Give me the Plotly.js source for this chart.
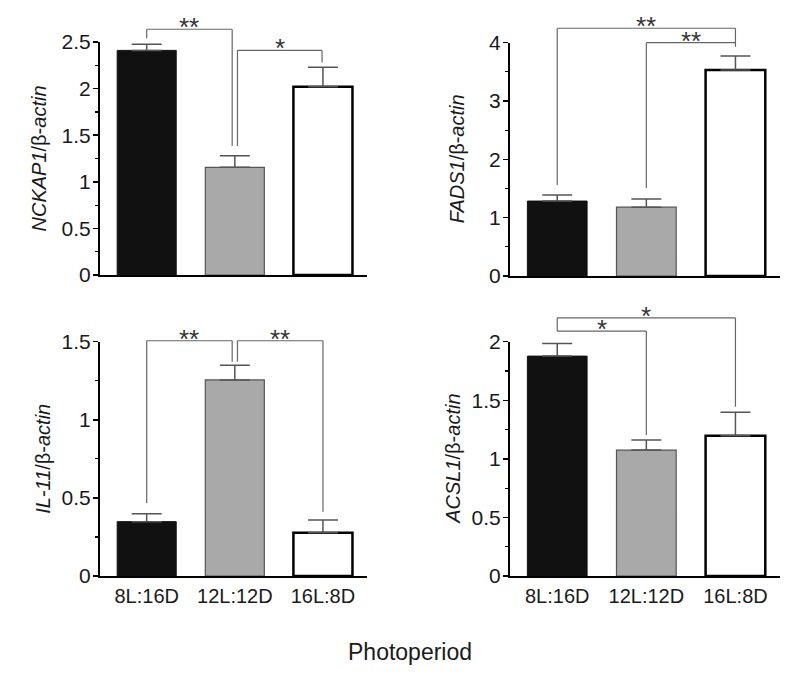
<!DOCTYPE html>
<html>
<head>
<meta charset="utf-8">
<script src="https://cdn.plot.ly/plotly-3.0.1.min.js"></script>
<style>html,body{margin:0;padding:0;background:#fff;}#chart{width:800px;height:680px;}</style>
</head>
<body>
<div id="chart"></div>
<script>
// ---- data ----
const categories = ['8L:16D', '12L:12D', '16L:8D'];

const nckap1 = [2.41, 1.155, 2.02];
const nckap1Err = [0.065, 0.125, 0.21];

const fads1 = [1.285, 1.18, 3.53];
const fads1Err = [0.105, 0.14, 0.24];

const il11 = [0.348, 1.255, 0.277];
const il11Err = [0.051, 0.094, 0.081];

const acsl1 = [1.877, 1.075, 1.197];
const acsl1Err = [0.108, 0.085, 0.2];

const yTitles = ['<i>NCKAP1</i>/β-<i>actin</i>', '<i>FADS1</i>/β-<i>actin</i>',
                 '<i>IL-11</i>/β-<i>actin</i>', '<i>ACSL1</i>/β-<i>actin</i>'];
const yMax = [2.5, 4, 1.5, 2];
const yDtick = [0.5, 1, 0.5, 0.5];
const yMinor = [0.25, 0.5, 0.25, 0.25];

// significance brackets: [from, to, level, leftLegEnd, rightLegEnd, label]
const brackets1 = [[0, 0.97, 2.637, 2.54, 1.383, '**'], [1.03, 1.99, 2.41, 1.383, 2.28, '*']];
const brackets2 = [[0, 2, 4.248, 1.56, 3.93, '**'], [1, 2, 4.0, 1.51, 4.0, '**']];
const brackets3 = [[0, 0.97, 1.506, 0.465, 1.372, '**'], [1.03, 2, 1.506, 1.372, 0.412, '**']];
const brackets4 = [[0, 2, 2.204, 2.091, 1.445, '*'], [0, 1, 2.091, 2.091, 1.203, '*']];

// ---- layout geometry ----
const W = 800, H = 680;
const xDomains = [[100 / W, 367 / W], [510 / W, 780 / W], [100 / W, 367 / W], [510 / W, 780 / W]];
const yDomains = [[(H - 275) / H, (H - 42) / H], [(H - 276) / H, (H - 42.7) / H],
                  [(H - 576) / H, (H - 341.7) / H], [(H - 576) / H, (H - 341.7) / H]];
const xRange = [-0.53, 2.5];
const titleX = [38, 457, 43, 453];

const values = [nckap1, fads1, il11, acsl1];
const errs = [nckap1Err, fads1Err, il11Err, acsl1Err];
const brackets = [brackets1, brackets2, brackets3, brackets4];

const fillColors = ['#111111', '#a9a9a9', '#ffffff'];
const lineColors = ['#111111', '#555555', '#000000'];
const lineWidths = [1, 1.2, 2.5];
const FONT = 'Liberation Sans, Arial, sans-serif';

function xp(i, v) { const d = xDomains[i]; return d[0] + (v - xRange[0]) / (xRange[1] - xRange[0]) * (d[1] - d[0]); }
function yp(i, v) { const d = yDomains[i]; return d[0] + v / yMax[i] * (d[1] - d[0]); }

const traces = [];
const layout = {
  width: W, height: H, margin: {l: 0, r: 0, t: 0, b: 0},
  paper_bgcolor: '#fff', plot_bgcolor: 'rgba(0,0,0,0)',
  showlegend: false, bargap: 0.33,
  font: {family: FONT, color: '#1a1a1a', size: 20},
  shapes: [], annotations: []
};

for (let i = 0; i < 4; i++) {
  const n = i === 0 ? '' : String(i + 1);
  traces.push({
    type: 'bar', x: categories, y: values[i],
    xaxis: 'x' + n, yaxis: 'y' + n,
    marker: {color: fillColors, line: {color: lineColors, width: lineWidths}},
    error_y: {type: 'data', symmetric: false, array: errs[i], arrayminus: [0, 0, 0],
              color: '#555555', thickness: 1.5, width: 15},
    cliponaxis: false, hoverinfo: 'skip'
  });
  const bottom = i >= 2;
  layout['xaxis' + n] = {
    domain: xDomains[i], anchor: 'y' + n, type: 'category', range: xRange,
    showline: true, linecolor: '#000', linewidth: 2, showgrid: false, zeroline: false,
    ticks: bottom ? 'outside' : '', ticklen: 1, tickcolor: 'rgba(0,0,0,0)',
    showticklabels: bottom, tickfont: {family: FONT, size: 20, color: '#1a1a1a'},
    fixedrange: true
  };
  layout['yaxis' + n] = {
    domain: yDomains[i], anchor: 'x' + n, range: [0, yMax[i]], dtick: yDtick[i], tick0: 0,
    showline: true, linecolor: '#000', linewidth: 2, showgrid: false, zeroline: false,
    ticks: 'outside', ticklen: 5, tickwidth: 1.5, tickcolor: '#000', ticklabelstandoff: -2,
    minor: {dtick: yMinor[i], ticks: 'outside', ticklen: 3, tickwidth: 1.2, tickcolor: '#000', showgrid: false},
    tickfont: {family: FONT, size: 21, color: '#1a1a1a'}, fixedrange: true
  };
  layout.annotations.push({
    xref: 'paper', yref: 'paper', x: titleX[i] / W, y: (yDomains[i][0] + yDomains[i][1]) / 2,
    text: yTitles[i], textangle: -90, showarrow: false, xanchor: 'center', yanchor: 'middle',
    font: {family: FONT, size: 20, color: '#1a1a1a'}
  });
  brackets[i].forEach(b => {
    const [a, c, lvl, le, re, lab] = b;
    const ln = {color: '#666666', width: 1.2};
    layout.shapes.push({type: 'line', xref: 'paper', yref: 'paper', x0: xp(i, a), x1: xp(i, c), y0: yp(i, lvl), y1: yp(i, lvl), line: ln});
    layout.shapes.push({type: 'line', xref: 'paper', yref: 'paper', x0: xp(i, a), x1: xp(i, a), y0: yp(i, lvl), y1: yp(i, le), line: ln});
    layout.shapes.push({type: 'line', xref: 'paper', yref: 'paper', x0: xp(i, c), x1: xp(i, c), y0: yp(i, lvl), y1: yp(i, re), line: ln});
    layout.annotations.push({
      xref: 'paper', yref: 'paper', x: xp(i, (a + c) / 2), y: yp(i, lvl),
      text: lab, showarrow: false, xanchor: 'center', yanchor: 'middle', yshift: 2,
      font: {family: FONT, size: 26, color: '#333333'}
    });
  });
}

layout.annotations.push({
  xref: 'paper', yref: 'paper', x: 410 / W, y: (H - 652) / H, text: 'Photoperiod',
  showarrow: false, xanchor: 'center', yanchor: 'middle', font: {family: FONT, size: 23, color: '#1a1a1a'}
});

Plotly.newPlot('chart', traces, layout, {displayModeBar: false, staticPlot: true});
</script>
</body>
</html>
